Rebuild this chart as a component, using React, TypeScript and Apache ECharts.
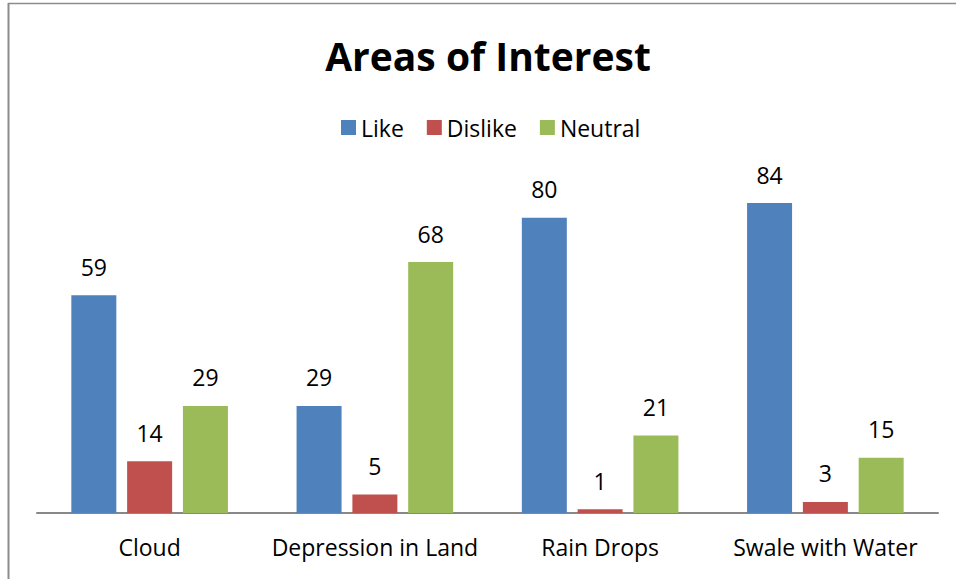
import React, { useEffect, useRef } from "react";
import * as echarts from "echarts";

const categories = ["Cloud", "Depression in Land", "Rain Drops", "Swale with Water"];
const likeValues = [59, 29, 80, 84];
const dislikeValues = [14, 5, 1, 3];
const neutralValues = [29, 68, 21, 15];

const FONT = "'Open Sans', 'Noto Sans', sans-serif";

export default function App() {
  const ref = useRef<HTMLDivElement>(null);
  useEffect(() => {
    if (!ref.current) return;
    const chart = echarts.init(ref.current, null, { renderer: "svg" });
    const label = {
      show: true,
      position: "top" as const,
      distance: 17,
      fontSize: 23,
      color: "#000",
      fontFamily: FONT,
    };
    chart.setOption({
      animation: false,
      backgroundColor: "#fff",
      legend: {
        top: 116,
        left: 341,
        padding: 0,
        icon: "rect",
        itemWidth: 15,
        itemHeight: 15,
        itemGap: 23,
        textStyle: { fontSize: 23, color: "#000", fontFamily: FONT },
        data: ["Like", "Dislike", "Neutral"],
      },
      grid: { left: 37, right: 18, top: 144, bottom: 66 },
      xAxis: {
        type: "category",
        data: categories,
        axisLine: { lineStyle: { color: "#888", width: 2 } },
        axisTick: { show: false },
        axisLabel: { fontSize: 23, color: "#000", fontFamily: FONT, margin: 22, interval: 0 },
      },
      yAxis: {
        type: "value",
        min: 0,
        max: 100,
        show: false,
        splitLine: { show: false },
      },
      graphic: [
        { type: "line", shape: { x1: 8.5, y1: 3, x2: 8.5, y2: 579 }, style: { stroke: "#8c8c8c", lineWidth: 2 } },
        { type: "line", shape: { x1: 8, y1: 3.5, x2: 956, y2: 3.5 }, style: { stroke: "#8c8c8c", lineWidth: 1.5 } },
        {
          type: "text",
          x: 488,
          y: 55,
          style: {
            text: "Areas of Interest",
            fontSize: 39,
            fontWeight: "bold",
            fill: "#000",
            fontFamily: FONT,
            textAlign: "center",
            textVerticalAlign: "middle",
          },
        },
      ],
      series: [
        { name: "Like", type: "bar", data: likeValues, barWidth: 45, barGap: "24%", itemStyle: { color: "#4F81BD" }, label },
        { name: "Dislike", type: "bar", data: dislikeValues, barWidth: 45, barGap: "24%", itemStyle: { color: "#C0504D" }, label },
        { name: "Neutral", type: "bar", data: neutralValues, barWidth: 45, barGap: "24%", itemStyle: { color: "#9BBB59" }, label },
      ],
    });
    return () => chart.dispose();
  }, []);
  return (
    <div
      ref={ref}
      style={{ position: "absolute", left: 0, top: 0, width: 956, height: 579 }}
    />
  );
}
